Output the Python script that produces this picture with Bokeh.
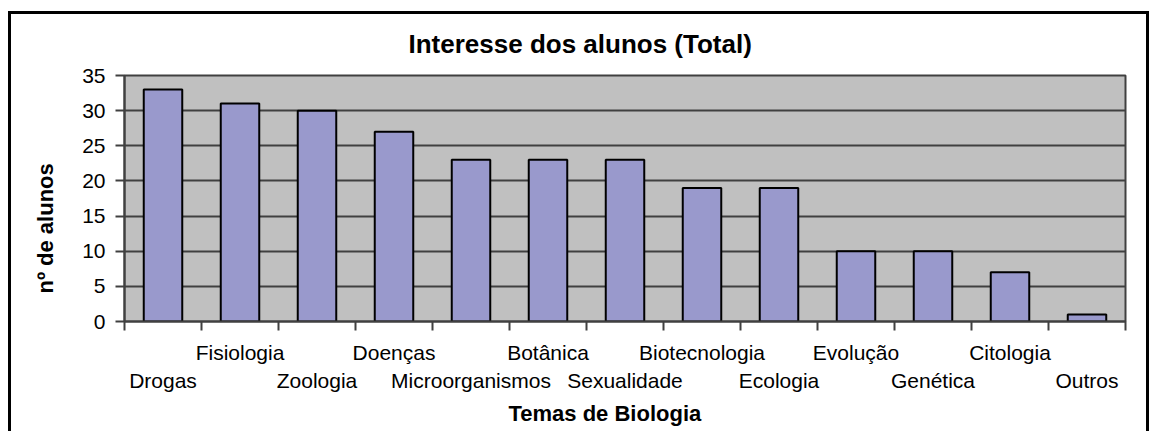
from bokeh.plotting import figure
from bokeh.models import LinearAxis, FixedTicker, Range1d, Title
from bokeh.embed import file_html
from bokeh.resources import INLINE

# ---- data ----
categories = ["Drogas", "Fisiologia", "Zoologia", "Doenças", "Microorganismos",
              "Botânica", "Sexualidade", "Biotecnologia", "Ecologia", "Evolução",
              "Genética", "Citologia", "Outros"]
values = [33, 31, 30, 27, 23, 23, 23, 19, 19, 10, 10, 7, 1]
y_ticks = [0, 5, 10, 15, 20, 25, 30, 35]

title_text = "Interesse dos alunos (Total)"
x_title = "Temas de Biologia"
y_title = "nº de alunos"

FONT = "Liberation Sans"
GRID = "#404040"
n = len(categories)
centers = [i + 0.5 for i in range(n)]
boundaries = list(range(n + 1))

p = figure(width=1141, height=420,
           x_range=Range1d(0, n), y_range=Range1d(0, y_ticks[-1]),
           output_backend="svg", toolbar_location=None,
           x_axis_type=None,
           min_border_left=113, min_border_right=27,
           min_border_top=61, min_border_bottom=113)

p.styles = {"border-top": "3px solid black", "border-left": "3px solid black",
            "border-right": "3px solid black",
            "margin-top": "11px", "margin-left": "8px"}

p.background_fill_color = "#C0C0C0"
p.border_fill_color = "white"
p.outline_line_color = GRID
p.outline_line_width = 2
p.outline_line_alpha = 1

# title
p.title.text = title_text
p.title.text_font = FONT
p.title.text_font_size = "26px"
p.title.text_font_style = "bold"
p.title.text_color = "black"
p.title.align = "left"
p.title.offset = 284
p.title.vertical_align = "top"
p.title.standoff = 29

# y axis
yax = p.yaxis[0]
yax.ticker = FixedTicker(ticks=y_ticks)
yax.major_tick_out = 9
yax.major_tick_in = 0
yax.minor_tick_line_color = None
yax.major_tick_line_color = GRID
yax.major_tick_line_width = 2
yax.axis_line_color = GRID
yax.axis_line_width = 2
yax.major_label_text_font = FONT
yax.major_label_text_font_size = "21px"
yax.major_label_text_color = "black"
yax.major_label_standoff = 10

p.ygrid.ticker = FixedTicker(ticks=y_ticks)
p.ygrid.grid_line_color = GRID
p.ygrid.grid_line_width = 2
p.xgrid.visible = False

# bars
p.vbar(x=centers, top=values, bottom=0, width=0.5,
       fill_color="#9999CC", line_color="black", line_width=2)

odd_idx = list(range(1, n, 2))
even_idx = list(range(0, n, 2))

# x axis, first row of labels; category boundaries drawn as (minor) ticks
ax_row1 = LinearAxis(ticker=FixedTicker(ticks=[centers[i] for i in odd_idx],
                                        minor_ticks=boundaries),
                     major_label_overrides={centers[i]: categories[i] for i in odd_idx},
                     axis_line_color=GRID, axis_line_width=2,
                     major_tick_line_color=None, major_tick_out=0, major_tick_in=0,
                     minor_tick_line_color=GRID, minor_tick_line_width=2,
                     minor_tick_out=9, minor_tick_in=0,
                     major_label_standoff=10,
                     major_label_text_font=FONT, major_label_text_font_size="21px",
                     major_label_text_color="black")
p.add_layout(ax_row1, "below")

# second row of labels
ax_row2 = LinearAxis(ticker=FixedTicker(ticks=[centers[i] for i in even_idx]),
                     major_label_overrides={centers[i]: categories[i] for i in even_idx},
                     axis_line_color=None, major_tick_line_color=None,
                     minor_tick_line_color=None, major_tick_out=0, major_tick_in=0,
                     major_label_standoff=2,
                     major_label_text_font=FONT, major_label_text_font_size="21px",
                     major_label_text_color="black")
p.add_layout(ax_row2, "below")

# axis titles
p.add_layout(Title(text=x_title, text_font=FONT, text_font_size="22px",
                   text_font_style="bold", text_color="black",
                   align="left", offset=384, standoff=9), "below")
p.add_layout(Title(text=y_title, text_font=FONT, text_font_size="22px",
                   text_font_style="bold", text_color="black",
                   align="left", offset=28, vertical_align="top", standoff=40), "left")

open("out.html", "w").write(file_html(p, INLINE))
